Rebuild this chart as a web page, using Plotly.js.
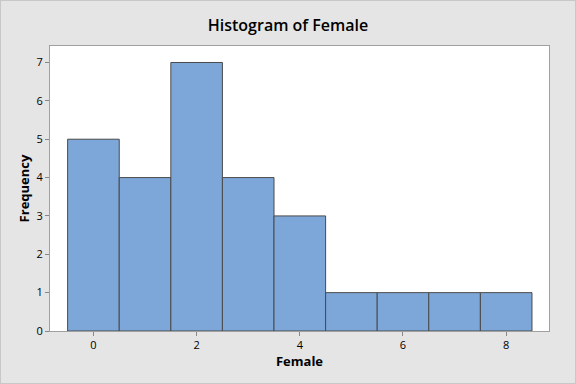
<!DOCTYPE html>
<html><head><meta charset="utf-8">
<script src="https://cdn.plot.ly/plotly-3.0.1.min.js"></script>
<style>html,body{margin:0;padding:0;background:#e5e5e5;}#c{width:576px;height:384px;box-sizing:border-box;border:1px solid #c8c8c8;}</style>
</head><body><div id="c"></div>
<script>
const binCenters = [0, 1, 2, 3, 4, 5, 6, 7, 8];
const frequencies = [5, 4, 7, 4, 3, 1, 1, 1, 1];
const xTicks = [0, 2, 4, 6, 8];
const yTicks = [0, 1, 2, 3, 4, 5, 6, 7];

const font = "'Open Sans', 'Noto Sans', sans-serif";
Plotly.newPlot('c', [{
  type: 'bar', x: binCenters, y: frequencies, width: 1,
  marker: {color: '#7da7d9', line: {color: '#4a4a4a', width: 1}},
  hoverinfo: 'none'
}], {
  width: 574, height: 382,
  paper_bgcolor: '#e5e5e5', plot_bgcolor: '#ffffff',
  margin: {l: 49, r: 26, t: 45, b: 52},
  title: {text: 'Histogram of Female', x: 0.5, xanchor: 'center', y: 0.935, yanchor: 'middle',
          font: {family: font, size: 16, color: '#000', weight: 600}},
  xaxis: {range: [-0.842, 8.83], tickvals: xTicks, ticks: 'outside', ticklen: 4, tickcolor: '#888',
          showline: true, linecolor: '#a0a0a0', linewidth: 1, mirror: true, showgrid: false, zeroline: false,
          tickfont: {family: font, size: 11, color: '#000'},
          title: {text: '<b>Female</b>', font: {family: font, size: 13, color: '#000'}, standoff: 3}},
  yaxis: {range: [0, 7.43], tickvals: yTicks, ticks: 'outside', ticklen: 4, tickcolor: '#888',
          showline: true, linecolor: '#a0a0a0', linewidth: 1, mirror: true, showgrid: false, zeroline: false,
          tickfont: {family: font, size: 11, color: '#000'},
          title: {text: '<b>Frequency</b>', font: {family: font, size: 13, color: '#000'}, standoff: 3}},
  bargap: 0, showlegend: false
}, {staticPlot: true, displayModeBar: false});
</script></body></html>
